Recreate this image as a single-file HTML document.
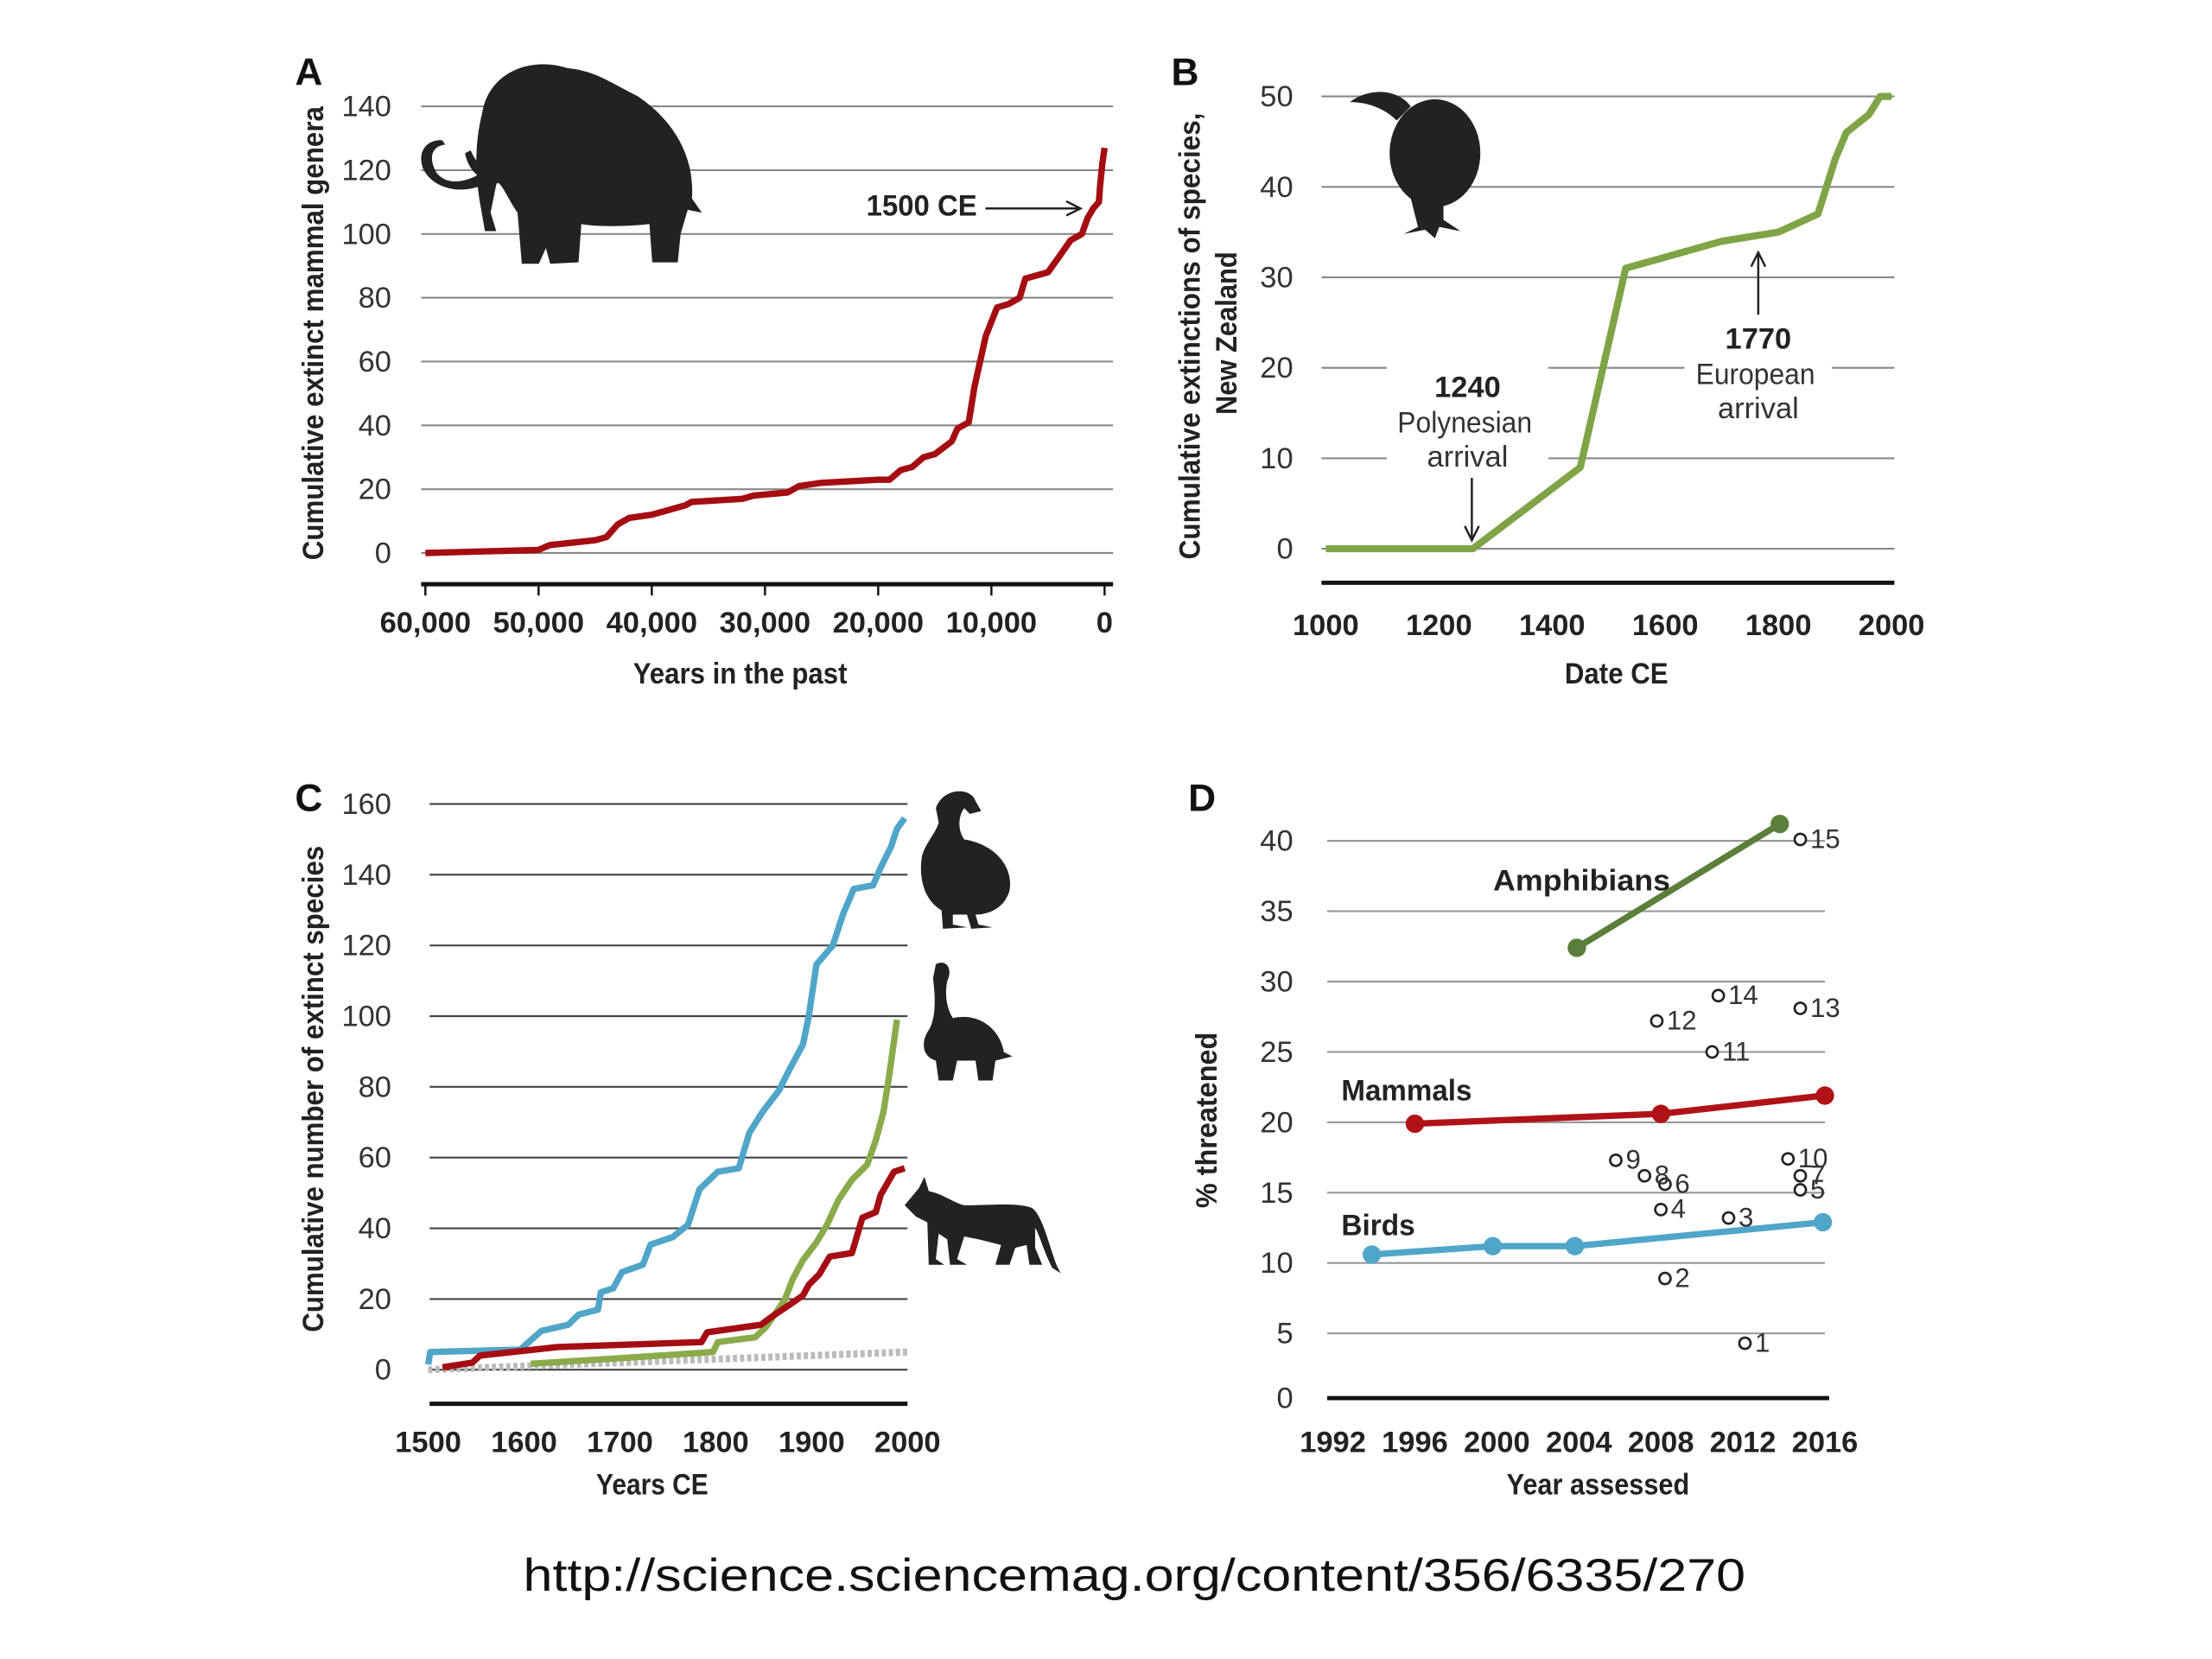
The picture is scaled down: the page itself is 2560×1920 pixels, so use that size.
<!DOCTYPE html>
<html><head><meta charset="utf-8">
<style>
html,body{margin:0;padding:0;background:#fff;}
svg{display:block;}
text{font-family:"Liberation Sans Narrow","Liberation Sans",sans-serif;}
.tick{font-size:21px;fill:#333;}
.xt{font-size:21px;font-weight:bold;fill:#222;}
.ttl{font-size:21px;font-weight:bold;fill:#222;}
.lab{font-size:27px;font-weight:bold;fill:#111;font-family:"Liberation Sans",sans-serif;}
.ann{font-size:21px;fill:#333;}
.annb{font-size:21px;font-weight:bold;fill:#222;}
</style></head>
<body>
<svg id="fig" width="2560" height="1920" viewBox="0 0 1560 1170" xmlns="http://www.w3.org/2000/svg">
<rect x="0" y="0" width="1560" height="1170" fill="#fff"/>

<!-- Panel A static -->
<g>
<text class="lab" x="208" y="60">A</text>
<text class="ttl" transform="translate(228,235) rotate(-90)" text-anchor="middle" textLength="320" lengthAdjust="spacingAndGlyphs">Cumulative extinct mammal genera</text>
<text class="ttl" x="522" y="482" text-anchor="middle" textLength="151" lengthAdjust="spacingAndGlyphs">Years in the past</text>
<g id="gA"></g>
<g fill="#222">
<path d="M340,80 C345,50 375,40 400,48 C420,50 430,58 450,68 C475,85 490,110 488,140 L495,150 L485,148 L480,165 L478,185 L460,185 L458,158 C440,160 420,160 410,158 L408,185 L388,186 L385,175 L380,186 L368,186 L365,150 C358,140 352,125 350,130 L346,150 L350,163 L342,163 L338,140 C335,120 335,100 340,80 Z"/>
<path d="M345,128 C330,138 305,135 298,118 C294,105 303,98 312,99 L314,102 C304,103 302,112 308,122 C316,132 332,128 342,120 Z"/>
<path d="M350,126 C340,130 330,120 328,108 L332,106 C336,116 342,120 350,116 Z"/>
</g>
<text class="annb" x="650" y="152" text-anchor="middle" textLength="78" lengthAdjust="spacingAndGlyphs">1500 CE</text>
<line x1="695" y1="147" x2="760" y2="147" stroke="#222" stroke-width="1.5"/>
<path d="M752,142 L762,147 L752,152" fill="none" stroke="#222" stroke-width="1.5"/>
</g>

<!-- Panel B static -->
<g>
<text class="lab" x="826" y="60">B</text>
<text class="ttl" transform="translate(846,237) rotate(-90)" text-anchor="middle" textLength="315" lengthAdjust="spacingAndGlyphs">Cumulative extinctions of  species,</text>
<text class="ttl" transform="translate(872,235) rotate(-90)" text-anchor="middle" textLength="115" lengthAdjust="spacingAndGlyphs">New Zealand</text>
<text class="ttl" x="1140" y="482" text-anchor="middle" textLength="73" lengthAdjust="spacingAndGlyphs">Date CE</text>
<g id="gB"></g>
<g fill="#222">
<ellipse cx="1012" cy="108" rx="32" ry="38"/>
<path d="M952,72 C965,62 985,62 995,75 L985,85 C975,75 962,72 952,72 Z"/>
<path d="M995,140 L1000,160 L990,165 L1005,162 L1012,168 L1015,160 L1030,163 L1018,155 L1018,140 Z"/>
</g>
<rect x="978" y="258" width="114" height="76" fill="#fff"/>
<rect x="1188" y="224" width="104" height="76" fill="#fff"/>
<text class="annb" x="1035" y="280" text-anchor="middle">1240</text>
<text class="ann" x="1033" y="305" text-anchor="middle" textLength="95" lengthAdjust="spacingAndGlyphs">Polynesian</text>
<text class="ann" x="1035" y="329" text-anchor="middle">arrival</text>
<line x1="1038" y1="337" x2="1038" y2="380" stroke="#222" stroke-width="1.5"/>
<path d="M1033,371 L1038,381 L1043,371" fill="none" stroke="#222" stroke-width="1.5"/>
<text class="annb" x="1240" y="246" text-anchor="middle">1770</text>
<text class="ann" x="1238" y="271" text-anchor="middle" textLength="84" lengthAdjust="spacingAndGlyphs">European</text>
<text class="ann" x="1240" y="295" text-anchor="middle">arrival</text>
<line x1="1240" y1="222" x2="1240" y2="179" stroke="#222" stroke-width="1.5"/>
<path d="M1235,188 L1240,178 L1245,188" fill="none" stroke="#222" stroke-width="1.5"/>
</g>

<!-- Panel C static -->
<g>
<text class="lab" x="208" y="572">C</text>
<text class="ttl" transform="translate(228,768) rotate(-90)" text-anchor="middle" textLength="343" lengthAdjust="spacingAndGlyphs">Cumulative number of extinct species</text>
<text class="ttl" x="460" y="1054" text-anchor="middle" textLength="79" lengthAdjust="spacingAndGlyphs">Years CE</text>
<g id="gC"></g>
<g fill="#222">
<path d="M660,570 C665,555 685,555 688,565 L692,572 L684,574 L680,570 C676,575 675,585 680,592 C700,595 715,610 712,628 C708,642 695,645 688,645 L690,652 L700,654 L685,655 L682,645 L672,645 L672,652 L682,654 L665,655 L664,642 C652,635 648,620 650,605 C652,595 660,588 662,580 Z"/>
</g>
<g fill="#222">
<path d="M660,680 C668,676 672,684 668,692 C666,702 668,712 672,718 C690,714 705,725 708,742 L714,745 L702,748 L700,762 L690,762 L688,748 L675,748 L672,762 L662,762 L660,748 C650,745 650,735 654,728 C660,720 660,705 658,690 Z"/>
</g>
<g fill="#222">
<path d="M638,850 L648,838 L652,830 L655,840 C665,842 672,848 680,850 C700,850 718,848 728,852 C735,858 738,872 745,892 L748,898 L742,894 C735,880 733,870 730,866 L730,880 L735,892 L726,892 L724,878 L716,880 L712,892 L702,892 L706,878 L690,874 L680,872 L675,888 L682,892 L670,892 L668,874 L662,870 L660,888 L666,892 L655,892 L654,862 L646,858 Z"/>
</g>
</g>

<!-- Panel D static -->
<g>
<text class="lab" x="838" y="572">D</text>
<text class="ttl" transform="translate(858,790) rotate(-90)" text-anchor="middle" textLength="124" lengthAdjust="spacingAndGlyphs">% threatened</text>
<text class="ttl" x="1127" y="1054" text-anchor="middle" textLength="129" lengthAdjust="spacingAndGlyphs">Year assessed</text>
<g id="gD"></g>
</g>

<text x="800" y="1122" text-anchor="middle" textLength="862" lengthAdjust="spacingAndGlyphs" style="font-family:'Liberation Sans',sans-serif;font-size:32px;fill:#111">http://science.sciencemag.org/content/356/6335/270</text>
</svg>

<script>
// ---- Panel A data ----
const aYearsAgo = [60000,50000,49000,45000,44000,43000,42000,40000,39000,37000,36500,32000,31000,28000,27000,25000,20000,19000,18000,17000,16000,15000,13500,13000,12000,11500,11000,10500,9500,8500,7500,7000,5000,4000,3000,2000,1500,1000,500,400,200,0];
const aGenera   = [0,1,2.5,4,5,9,11,12,13,15,16,17,18,19,21,22,23,23,26,27,30,31,35,39,41,52,60,68,77,78,80,86,88,93,98,100,105,108,110,115,122,127];
const aYTicks = [0,20,40,60,80,100,120,140];
const aXTicks = [60000,50000,40000,30000,20000,10000,0];
const aXTickLabels = ["60,000","50,000","40,000","30,000","20,000","10,000","0"];
// ---- Panel B data ----
const bYears = [1000,1260,1450,1530,1700,1800,1870,1900,1920,1960,1980,2000];
const bExt   = [0,0,9,31,34,35,37,43,46,48,50,50];
const bYTicks = [0,10,20,30,40,50];
const bXTicks = [1000,1200,1400,1600,1800,2000];
// ---- Panel C data ----
const cBirdYears = [1500,1502,1596,1618,1646,1657,1677,1680,1693,1702,1724,1732,1755,1771,1783,1802,1824,1835,1849,1866,1877,1891,1897,1905,1922,1933,1944,1964,1972,1983,1989,1997];
const cBirdVals  = [1.5,5,5.7,11,12.7,15.6,17,21.9,23,27.6,29.7,35.4,37.5,41,51,56,57,67,73,79,85,92,100,114.6,120,129,136,137,142,148,153,156];
const cAmphYears = [1607,1713,1797,1802,1841,1852,1872,1880,1891,1905,1916,1928,1942,1958,1967,1975,1981,1989];
const cAmphVals  = [1.7,3.5,5,7.8,9.2,12,19.8,25.5,31,36,41,48,53.7,58,65,73,83.5,99];
const cMamYears = [1515,1546,1554,1635,1785,1791,1847,1858,1877,1891,1897,1908,1919,1942,1953,1967,1972,1986,1997];
const cMamVals  = [0.7,2,4,6.4,7.8,10.6,12.7,14.9,18.4,21,24,27,32,33,43,44.6,49.5,56,57];
const cBgYears = [1500,2000];
const cBgVals  = [0,5];
const cYTicks = [0,20,40,60,80,100,120,140,160];
const cXTicks = [1500,1600,1700,1800,1900,2000];
// ---- Panel D data ----
const dAmphYears = [2003.9,2013.8];
const dAmphVals  = [32.4,41.2];
const dMamYears = [1996,2008,2016];
const dMamVals  = [19.9,20.6,21.9];
const dBirdYears = [1993.9,1999.8,2003.8,2015.9];
const dBirdVals  = [10.6,11.2,11.2,12.9];
const dOpenIds   = ["1","2","3","4","5","6","7","8","9","10","11","12","13","14","15"];
const dOpenYears = [2012.1,2008.2,2011.3,2008,2014.8,2008.2,2014.8,2007.2,2005.8,2014.2,2010.5,2007.8,2014.8,2010.8,2014.8];
const dOpenVals  = [4.3,8.9,13.2,13.8,15.2,15.6,16.2,16.2,17.3,17.4,25,27.2,28.1,29,40.1];
const dYTicks = [0,5,10,15,20,25,30,35,40];
const dXTicks = [1992,1996,2000,2004,2008,2012,2016];

const NS="http://www.w3.org/2000/svg";
function mk(parent,tag,attrs,txt){const e=document.createElementNS(NS,tag);for(const k in attrs)e.setAttribute(k,attrs[k]);if(txt!==undefined)e.textContent=txt;parent.appendChild(e);return e;}
function lin(d0,d1,r0,r1){return v=>r0+(v-d0)*(r1-r0)/(d1-d0);}
function pathOf(xs,ys,sx,sy){return xs.map((x,i)=>(i?'L':'M')+sx(x).toFixed(1)+','+sy(ys[i]).toFixed(1)).join(' ');}

// Panel A
(function(){
 const g=document.getElementById('gA');
 const sx=lin(60000,0,300,779), sy=lin(0,140,390,75);
 aYTicks.forEach(t=>{
  const l=mk(g,'line',{x1:297,x2:785,y1:sy(t),y2:sy(t),stroke:'#888','stroke-width':1.3});
  
  
  const tx=mk(g,'text',{x:276,y:sy(t)+7,'text-anchor':'end',class:'tick'},String(t));
  
  
 });
 const ax=mk(g,'line',{x1:297,x2:785,y1:412,y2:412,stroke:'#111','stroke-width':3});
 
 
 aXTicks.forEach((t,i)=>{
  mk(g,'line',{x1:sx(t),x2:sx(t),y1:412,y2:420,stroke:'#111','stroke-width':1.5});
  const tx=mk(g,'text',{x:sx(t),y:446,'text-anchor':'middle',class:'xt'},aXTickLabels[i]);
  
  
 });
 const p=mk(g,'path',{d:pathOf(aYearsAgo,aGenera,sx,sy),fill:'none',stroke:'#a50d12','stroke-width':4.5,'stroke-linejoin':'round'});
 
 
})();

// Panel B
(function(){
 const g=document.getElementById('gB');
 const sx=lin(1000,2000,935,1334), sy=lin(0,50,387,68);
 bYTicks.forEach(t=>{
  const l=mk(g,'line',{x1:932,x2:1336,y1:sy(t),y2:sy(t),stroke:'#888','stroke-width':1.3});
  
  
  const tx=mk(g,'text',{x:912,y:sy(t)+7,'text-anchor':'end',class:'tick'},String(t));
  
  
 });
 const ax=mk(g,'line',{x1:932,x2:1336,y1:411,y2:411,stroke:'#111','stroke-width':3});
 
 
 bXTicks.forEach(t=>{
  const tx=mk(g,'text',{x:sx(t),y:448,'text-anchor':'middle',class:'xt'},String(t));
  
  
 });
 const p=mk(g,'path',{d:pathOf(bYears,bExt,sx,sy),fill:'none',stroke:'#7fa446','stroke-width':5,'stroke-linejoin':'round'});
 
 
})();

// Panel C
(function(){
 const g=document.getElementById('gC');
 const sx=lin(1500,2000,302,640), sy=lin(0,160,966,567);
 cYTicks.forEach(t=>{
  const l=mk(g,'line',{x1:303,x2:640,y1:sy(t),y2:sy(t),stroke:'#444','stroke-width':1.3});
  
  
  const tx=mk(g,'text',{x:276,y:sy(t)+7,'text-anchor':'end',class:'tick'},String(t));
  
  
 });
 const ax=mk(g,'line',{x1:303,x2:640,y1:990,y2:990,stroke:'#111','stroke-width':3});
 
 
 cXTicks.forEach(t=>{
  const tx=mk(g,'text',{x:sx(t),y:1024,'text-anchor':'middle',class:'xt'},String(t));
  
  
 });
 const bg=mk(g,'path',{d:pathOf(cBgYears,cBgVals,sx,sy),fill:'none',stroke:'#bbb','stroke-width':5,'stroke-dasharray':'3 2'});
 
 
 const pb=mk(g,'path',{d:pathOf(cBirdYears,cBirdVals,sx,sy),fill:'none',stroke:'#4fa6c8','stroke-width':4.5,'stroke-linejoin':'round'});
 
 
 const pa=mk(g,'path',{d:pathOf(cAmphYears,cAmphVals,sx,sy),fill:'none',stroke:'#8aab4a','stroke-width':4.5,'stroke-linejoin':'round'});
 
 
 const pm=mk(g,'path',{d:pathOf(cMamYears,cMamVals,sx,sy),fill:'none',stroke:'#a50d12','stroke-width':4.5,'stroke-linejoin':'round'});
 
 
})();

// Panel D
(function(){
 const g=document.getElementById('gD');
 const sx=lin(1992,2016,940,1287), sy=lin(0,40,990,593);
 dYTicks.forEach(t=>{
  if(t>0){
   const l=mk(g,'line',{x1:936,x2:1287,y1:sy(t),y2:sy(t),stroke:'#999','stroke-width':1.3});
   
   
  }
  const tx=mk(g,'text',{x:912,y:sy(t)+(t===0?3:7),'text-anchor':'end',class:'tick'},String(t));
  
  
 });
 const ax=mk(g,'line',{x1:936,x2:1290,y1:986,y2:986,stroke:'#111','stroke-width':3});
 
 
 dXTicks.forEach(t=>{
  const tx=mk(g,'text',{x:sx(t),y:1024,'text-anchor':'middle',class:'xt'},String(t));
  
  
 });
 function series(xs,ys,col,name){
  const p=mk(g,'path',{d:pathOf(xs,ys,sx,sy),fill:'none',stroke:col,'stroke-width':4.5});
  
  
  xs.forEach((x,i)=>{
   const c=mk(g,'circle',{cx:sx(x),cy:sy(ys[i]),r:6.5,fill:col});
   
   
  });
 }
 series(dAmphYears,dAmphVals,'#5b7f3a','amphibians');
 series(dMamYears,dMamVals,'#b01218','mammals');
 series(dBirdYears,dBirdVals,'#4fa6c8','birds');
 dOpenYears.forEach((x,i)=>{
  const c=mk(g,'circle',{cx:sx(x),cy:sy(dOpenVals[i]),r:4,fill:'#fff',stroke:'#222','stroke-width':1.6});
  
  
  const t=mk(g,'text',{x:sx(x)+7,y:sy(dOpenVals[i])+6,class:'tick',style:'font-size:19px'},dOpenIds[i]);
  
  
 });
 [['Amphibians',1053,628,125],['Mammals',946,776,92],['Birds',946,871,52]].forEach(a=>{
  const t=mk(g,'text',{x:a[1],y:a[2],class:'annb',textLength:a[3],lengthAdjust:'spacingAndGlyphs'},a[0]);
  
  
 });
})();
</script>
</body></html>
